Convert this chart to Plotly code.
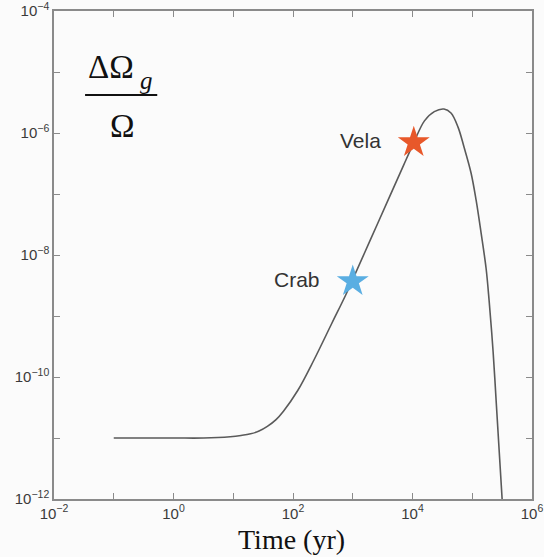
import math
import plotly.graph_objects as go

# curve
time_yr = [0.1, 1.0, 3.2, 8.9, 13.5, 19.5, 27, 37.2, 52, 69.2, 120, 224, 447, 759, 1000,
           1995, 3981, 7079, 10470, 15850, 23170, 33650, 44060, 57810, 72780, 95500,
           115900, 140600, 170600, 191400, 223400, 250600, 281800, 316200]
dOmega = [1.0e-11, 1.0e-11, 1.0e-11, 1.05e-11, 1.1e-11, 1.17e-11, 1.3e-11, 1.55e-11,
          2.0e-11, 2.75e-11, 6.0e-11, 1.9e-10, 7.6e-10, 2.19e-9, 3.98e-9,
          1.82e-8, 8.3e-8, 2.95e-7, 6.9e-7, 1.58e-6, 2.24e-6, 2.47e-6, 2.13e-6,
          1.25e-6, 5.9e-7, 2.21e-7, 7.98e-8, 2.30e-8, 6.0e-9, 1.8e-9, 2.6e-10,
          4.2e-11, 6.35e-12, 1.0e-12]

pulsar_names = ["Crab", "Vela"]
pulsar_age = [1000, 10500]
pulsar_val = [3.7e-9, 7.0e-7]
pulsar_colors = ["#5AAEE2", "#E8582A"]

x_tickvals = [10.0**k for k in range(-2, 7)]
x_ticktext = ["10<sup>−2</sup>", "", "10<sup>0</sup>", "", "10<sup>2</sup>", "",
              "10<sup>4</sup>", "", "10<sup>6</sup>"]
y_tickvals = [10.0**k for k in range(-12, -3)]
y_ticktext = ["10<sup>−12</sup>", "", "10<sup>−10</sup>", "", "10<sup>−8</sup>", "",
              "10<sup>−6</sup>", "", "10<sup>−4</sup>"]

fig = go.Figure()
fig.add_trace(go.Scatter(x=time_yr, y=dOmega, mode="lines",
                         line=dict(color="#5a5a5a", width=1.6, shape="spline", smoothing=1.0),
                         showlegend=False, hoverinfo="skip"))
fig.add_trace(go.Scatter(x=pulsar_age, y=pulsar_val, mode="markers",
                         marker=dict(symbol="star", size=24, color=pulsar_colors,
                                     line=dict(width=0)),
                         showlegend=False))
for n, a, v in zip(pulsar_names, pulsar_age, pulsar_val):
    fig.add_annotation(x=math.log10(a), y=math.log10(v), xref="x", yref="y", text=n,
                       showarrow=False, xanchor="right", yanchor="middle", xshift=-31, yshift=2,
                       font=dict(family="Liberation Sans, Arial", size=21, color="#333333"))

tick_font = dict(family="Liberation Sans, Arial", size=15, color="#3a3a3a")
axis_common = dict(type="log", showline=True, linecolor="#8a8a8a", linewidth=1.5,
                   mirror="ticks", ticks="inside", ticklen=6, tickcolor="#8a8a8a",
                   tickwidth=1.2, showgrid=False, zeroline=False, automargin=False,
                   ticklabeloverflow="allow", tickfont=tick_font)

fig.update_xaxes(range=[-2, 6], tickmode="array", tickvals=x_tickvals, ticktext=x_ticktext,
                 **axis_common)
fig.update_yaxes(range=[-12, -4], tickmode="array", tickvals=y_tickvals, ticktext=y_ticktext,
                 **axis_common)

serif = "Liberation Serif, Times New Roman"
# x-axis title
fig.add_annotation(xref="paper", yref="paper", x=0.497, y=-0.083, text="Time (yr)",
                   xanchor="center", yanchor="middle", showarrow=False,
                   font=dict(family=serif, size=28, color="#111111"))

# y label as a fraction (paper coords of the plot area)
fig.add_annotation(xref="paper", yref="paper", x=0.12, y=0.885, text="ΔΩ",
                   xanchor="center", yanchor="middle", showarrow=False,
                   font=dict(family=serif, size=33, color="#111111"))
fig.add_annotation(xref="paper", yref="paper", x=0.193, y=0.857, text="<i>g</i>",
                   xanchor="center", yanchor="middle", showarrow=False,
                   font=dict(family=serif, size=25, color="#111111"))
fig.add_annotation(xref="paper", yref="paper", x=0.143, y=0.764, text="Ω",
                   xanchor="center", yanchor="middle", showarrow=False,
                   font=dict(family=serif, size=33, color="#111111"))
fig.add_shape(type="line", xref="paper", yref="paper", x0=0.065, x1=0.216, y0=0.828, y1=0.828,
              line=dict(color="#111111", width=2))

fig.update_layout(width=544, height=557, margin=dict(l=54, r=12, t=11, b=58),
                  paper_bgcolor="#fbfbfb", plot_bgcolor="#fbfbfb")

fig.write_html("out.html", config={"displayModeBar": False},
               post_script="document.body.style.margin='0';"
                           "document.body.style.background='#fbfbfb';")
